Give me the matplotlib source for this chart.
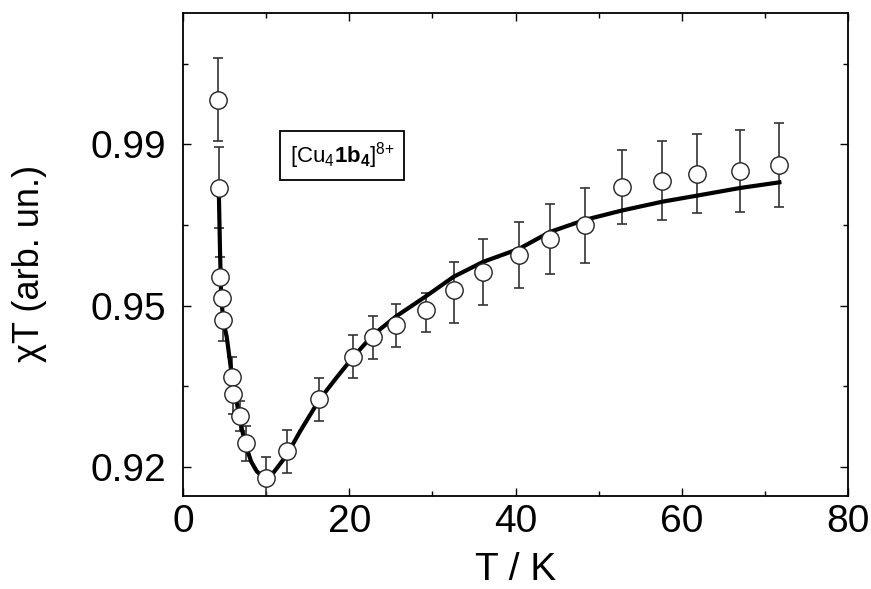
import numpy as np
import matplotlib
matplotlib.use("Agg")
import matplotlib.pyplot as plt
from matplotlib.ticker import FixedLocator, FixedFormatter, NullFormatter

plt.rcParams['font.family'] = ['Liberation Sans', 'DejaVu Sans']
plt.rcParams['mathtext.fontset'] = 'custom'
plt.rcParams['mathtext.rm'] = 'Liberation Sans'
plt.rcParams['mathtext.bf'] = 'Liberation Sans:bold'

# data points (T in K, chiT in arb. units) with error bars
T = [4.17, 4.29, 4.45, 4.73, 4.85, 5.86, 6.05, 6.86, 7.54, 9.98, 12.55, 16.40, 20.49,
     22.86, 25.62, 29.20, 32.57, 36.13, 40.42, 44.15, 48.36, 52.78, 57.66, 61.83, 67.01, 71.74]
chiT = [1.0011, 0.9793, 0.9572, 0.9519, 0.9474, 0.9368, 0.9335, 0.9294, 0.9244, 0.9179,
        0.9229, 0.9326, 0.9405, 0.9441, 0.9464, 0.9492, 0.9538, 0.9584, 0.9625, 0.9666,
        0.9700, 0.9794, 0.9810, 0.9827, 0.9835, 0.9848]
err = [0.0103, 0.0100, 0.0050, 0.0045, 0.0039, 0.0037, 0.0037, 0.0028, 0.0033, 0.0039,
       0.0040, 0.0040, 0.0040, 0.0040, 0.0040, 0.0040, 0.0070, 0.0082, 0.0082, 0.0087,
       0.0093, 0.0092, 0.0098, 0.0098, 0.0102, 0.0104]

# fitted curve
T_fit = [4.29, 4.33, 4.45, 4.57, 4.81, 5.26, 5.74, 6.14, 6.65, 7.10, 7.66, 8.20, 8.87,
         9.98, 10.86, 12.48, 14.08, 16.40, 18.41, 20.49, 22.89, 25.62, 29.20, 32.57,
         36.13, 40.42, 44.15, 48.36, 52.78, 57.66, 61.83, 67.01, 71.74]
chiT_fit = [0.9787, 0.9763, 0.9639, 0.9539, 0.9474, 0.9442, 0.9386, 0.9343, 0.9306,
            0.9269, 0.9235, 0.9210, 0.9192, 0.9176, 0.9189, 0.9222, 0.9266, 0.9325,
            0.9365, 0.9405, 0.9446, 0.9480, 0.9523, 0.9572, 0.9609, 0.9641, 0.9683,
            0.9713, 0.9736, 0.9758, 0.9773, 0.9792, 0.9806]

# the y axis of the original is not linear: ticks equally spaced but labelled 0.92, 0.95, 0.99
y_lab = [0.92, 0.95, 0.99]
y_minor = [0.935, 0.97, 1.01]


def fwd(y):
    y = np.asarray(y, dtype=float)
    return np.where(y < 0.95, (y - 0.92) / 0.015, 2 + (y - 0.95) / 0.02)


def inv(u):
    u = np.asarray(u, dtype=float)
    return np.where(u < 2, 0.92 + 0.015 * u, 0.95 + 0.02 * (u - 2))


fig = plt.figure(figsize=(8.71, 5.89), dpi=100)
ax = fig.add_axes([0.2101, 0.1579, 0.7635, 0.8200])
ax.set_yscale('function', functions=(fwd, inv))

ax.errorbar(T, chiT, yerr=err, fmt='none', ecolor='#333333', elinewidth=1.2,
            capsize=3.5, capthick=1.2, zorder=2)
ax.plot(T_fit, chiT_fit, color='black', lw=3, zorder=3)
ax.plot(T, chiT, 'o', ms=12.5, mfc='white', mec='#222222', mew=1.0, zorder=4)

ax.set_xlim(0, 80)
ax.set_ylim(inv(-0.36), inv(5.63))

ax.xaxis.set_major_locator(FixedLocator([0, 20, 40, 60, 80]))
ax.xaxis.set_minor_locator(FixedLocator([10, 30, 50, 70]))
ax.yaxis.set_major_locator(FixedLocator(y_lab))
ax.yaxis.set_minor_locator(FixedLocator(y_minor))
ax.yaxis.set_major_formatter(FixedFormatter(['0.92', '0.95', '0.99']))
ax.yaxis.set_minor_formatter(NullFormatter())

ax.tick_params(which='both', direction='in', top=True, right=True, width=1.0)
ax.tick_params(which='major', length=6, labelsize=28)
ax.tick_params(which='minor', length=3.5)
ax.tick_params(axis='x', which='major', pad=6)
ax.tick_params(axis='y', which='major', pad=12)
for s in ax.spines.values():
    s.set_linewidth(1.3)

ax.set_xlabel('T / K', fontsize=28)
ax.set_ylabel('χT (arb. un.)', fontsize=26)
ax.xaxis.set_label_coords(0.5, -0.116)
ax.yaxis.set_label_coords(-0.204, 0.482)

ax.text(0.239, 0.705, r'[Cu$_4$$\mathbf{1b}_\mathbf{4}$]$^{8{+}}$', transform=ax.transAxes,
        fontsize=16, ha='center', va='center',
        bbox=dict(boxstyle='square,pad=0.42', fc='white', ec='black', lw=1.3))

fig.savefig('out.png', dpi=100)
